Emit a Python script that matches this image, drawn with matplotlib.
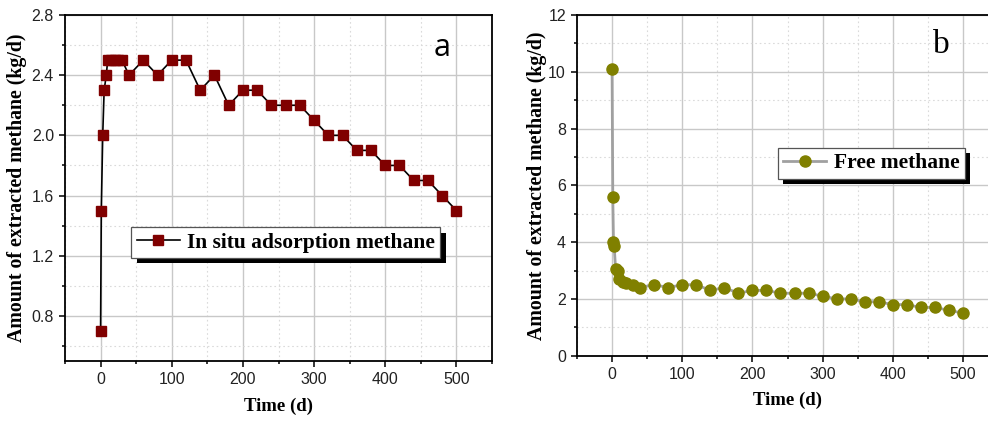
import numpy as np
import matplotlib
matplotlib.use("Agg")
import matplotlib.pyplot as plt
from matplotlib.patches import Rectangle
from matplotlib.ticker import MultipleLocator
from matplotlib.transforms import IdentityTransform

# In situ adsorption methane (panel a)
t_ads = [0, 1, 3, 5, 8, 10, 15, 20, 25, 30, 40, 60, 80, 100, 120, 140, 160, 180,
         200, 220, 240, 260, 280, 300, 320, 340, 360, 380, 400, 420, 440, 460, 480, 500]
q_ads = [0.7, 1.5, 2.0, 2.3, 2.4, 2.5, 2.5, 2.5, 2.5, 2.5, 2.4, 2.5, 2.4, 2.5, 2.5, 2.3, 2.4, 2.2,
         2.3, 2.3, 2.2, 2.2, 2.2, 2.1, 2.0, 2.0, 1.9, 1.9, 1.8, 1.8, 1.7, 1.7, 1.6, 1.5]

# Free methane (panel b)
t_free = [0, 1, 2, 3, 5, 8, 10, 15, 20, 30, 40, 60, 80, 100, 120, 140, 160, 180,
          200, 220, 240, 260, 280, 300, 320, 340, 360, 380, 400, 420, 440, 460, 480, 500]
q_free = [10.1, 5.6, 4.0, 3.85, 3.05, 3.0, 2.7, 2.6, 2.55, 2.5, 2.4, 2.5, 2.4, 2.5, 2.5, 2.3, 2.4, 2.2,
          2.3, 2.3, 2.2, 2.2, 2.2, 2.1, 2.0, 2.0, 1.9, 1.9, 1.8, 1.8, 1.7, 1.7, 1.6, 1.5]

ylabel = "Amount of extracted methane (kg/d)"
xlabel = "Time (d)"

tick_font = "Liberation Sans"
xlabel_font = dict(family="Liberation Serif", weight="bold", size=13.5)
ylabel_font = dict(family="Liberation Serif", weight="bold", size=14.3)


def style_axes(ax, ymajor, yminor):
    ax.set_xlim(-50, 550)
    ax.xaxis.set_major_locator(MultipleLocator(100))
    ax.xaxis.set_minor_locator(MultipleLocator(50))
    ax.yaxis.set_major_locator(MultipleLocator(ymajor))
    ax.yaxis.set_minor_locator(MultipleLocator(yminor))
    ax.grid(which="major", color="#c8c8c8", lw=1.0, ls="-")
    ax.grid(which="minor", color="#dadada", lw=0.8, ls=(0, (1.5, 2.5)))
    ax.set_axisbelow(True)
    ax.tick_params(which="both", direction="out", top=False, right=False,
                   width=1.1, labelsize=11.5, colors="black")
    ax.tick_params(which="major", length=4.5, pad=3.5)
    ax.tick_params(which="minor", length=2.5)
    for lab in ax.get_xticklabels() + ax.get_yticklabels():
        lab.set_fontfamily(tick_font)
        lab.set_color("#222222")
    for sp in ax.spines.values():
        sp.set_linewidth(1.3)
        sp.set_color("black")
    ax.set_ylabel(ylabel, fontdict=ylabel_font)
    ax.set_xlabel(xlabel, fontdict=xlabel_font)


def add_shadow(fig, ax, leg, off=5.5):
    # solid black drop shadow behind the legend frame
    fig.canvas.draw()
    bb = leg.get_frame().get_window_extent()
    rect = Rectangle((bb.x0 + off, bb.y0 - off), bb.width, bb.height,
                     transform=IdentityTransform(), facecolor="black",
                     edgecolor="none", zorder=4.9)
    ax.add_artist(rect)


fig = plt.figure(figsize=(9.88, 4.23), dpi=100)
ax1 = fig.add_axes([65 / 988, 62 / 423, 427 / 988, 346 / 423])
ax2 = fig.add_axes([577 / 988, 67.3 / 423, 421 / 988, 340.7 / 423])

# panel a
ax1.plot(t_ads, q_ads, color="black", lw=1.2, marker="s", ms=6.5,
         mfc="#800000", mec="#800000", label="In situ adsorption methane")
ax1.set_ylim(0.5, 2.8)
style_axes(ax1, 0.4, 0.2)
ax1.set_yticks(np.arange(0.8, 2.81, 0.4))
ax1.set_yticklabels([f"{v:.1f}" for v in np.arange(0.8, 2.81, 0.4)],
                    family=tick_font, color="#222222")
ax1.yaxis.set_label_coords(-0.09, 0.5)
ax1.xaxis.set_label_coords(0.5, -0.105)
ax1.text(0.883, 0.905, "a", transform=ax1.transAxes, ha="center", va="center",
         fontsize=22, family="Open Sans")

# panel b
ax2.plot(t_free, q_free, color="#a0a0a0", lw=2.0, marker="o", ms=8,
         mfc="#808000", mec="#808000", label="Free methane")
ax2.set_ylim(0, 12)
style_axes(ax2, 2, 1)
ax2.yaxis.set_label_coords(-0.071, 0.5)
ax2.xaxis.set_label_coords(0.5, -0.105)
ax2.text(0.866, 0.912, "b", transform=ax2.transAxes, ha="center", va="center",
         fontsize=24, family="Liberation Serif")

leg_kw = dict(loc="upper left", borderaxespad=0, fancybox=False, framealpha=1,
              edgecolor="#555555", handlelength=2.0, handletextpad=0.35,
              borderpad=0.25, prop=dict(family="Liberation Serif", weight="bold", size=15.5))
leg1 = ax1.legend(bbox_to_anchor=(0.155, 0.387), **leg_kw)
leg2 = ax2.legend(bbox_to_anchor=(0.477, 0.61), **leg_kw)
for leg in (leg1, leg2):
    leg.get_frame().set_linewidth(0.9)
    leg.set_zorder(5)

add_shadow(fig, ax1, leg1)
add_shadow(fig, ax2, leg2)

fig.savefig("out.png", dpi=100)
